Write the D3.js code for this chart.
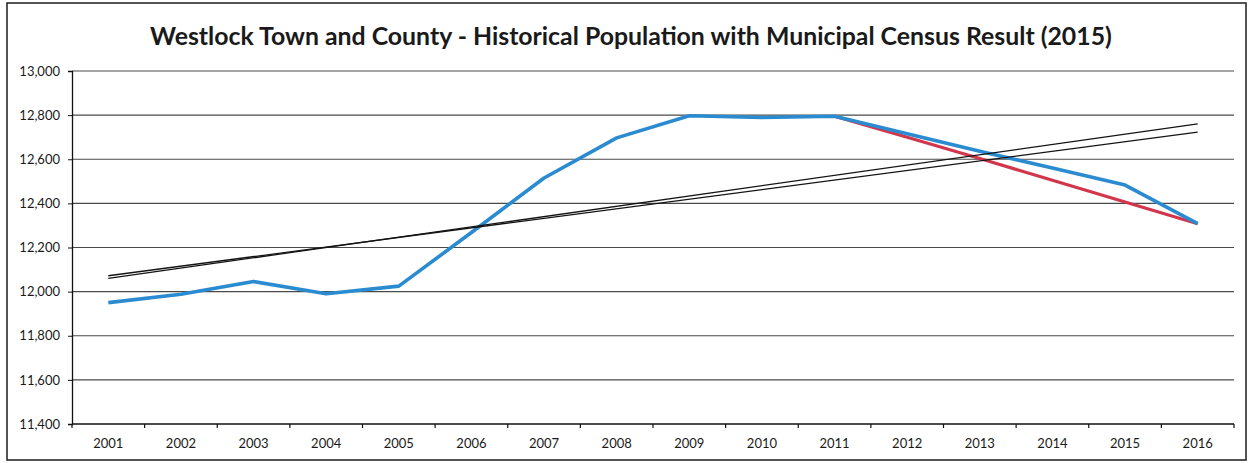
<!DOCTYPE html>
<html>
<head>
<meta charset="utf-8">
<script src="https://cdn.jsdelivr.net/npm/d3@7"></script>
<style>
  html, body { margin: 0; padding: 0; background: #fff; }
  svg { display: block; }
  text { font-family: Lato, "Open Sans", sans-serif; fill: #1a1a1a; }
</style>
</head>
<body>
<svg id="chart" width="1251" height="463"></svg>
<script>
const titleText = "Westlock Town and County - Historical Population with Municipal Census Result (2015)";
const years = [2001, 2002, 2003, 2004, 2005, 2006, 2007, 2008, 2009, 2010, 2011, 2012, 2013, 2014, 2015, 2016];
const population = [11950, 11988, 12046, 11990, 12025, 12268, 12515, 12697, 12797, 12789, 12795, 12716, 12636, 12560, 12483, 12308];
const censusYears = [2011, 2012, 2013, 2014, 2015, 2016];
const censusValues = [12795, 12700, 12603, 12505, 12406, 12308];
const trendA = [[2001, 12060], [2016, 12760]];
const trendB = [[2001, 12072], [2016, 12723]];
const yTicks = [11400, 11600, 11800, 12000, 12200, 12400, 12600, 12800, 13000];

const svg = d3.select("#chart");
const pLeft = 72, pRight = 1234, pTop = 71, pBottom = 424;

// outer frame
svg.append("rect").attr("x", 7).attr("y", 3).attr("width", 1239).attr("height", 457)
  .attr("fill", "none").attr("stroke", "#2a2a2a").attr("stroke-width", 1.6);

const x = d3.scaleBand().domain(years).range([pLeft, pRight]).paddingInner(0).paddingOuter(0);
const y = d3.scaleLinear().domain([11400, 13000]).range([pBottom, pTop]);
const cx = d => x(d) + x.bandwidth() / 2;

// gridlines
svg.append("g").selectAll("line").data(yTicks.filter(t => t > 11400)).join("line")
  .attr("x1", pLeft).attr("x2", pRight)
  .attr("y1", d => y(d)).attr("y2", d => y(d))
  .attr("stroke", "#4a4a4a").attr("stroke-width", 1.1);

// y axis
const yAxis = d3.axisLeft(y).tickValues(yTicks).tickSize(4).tickPadding(8)
  .tickFormat(d3.format(","));
const gy = svg.append("g").attr("transform", `translate(${pLeft},0)`).call(yAxis);
gy.select(".domain").attr("stroke", "#111").attr("stroke-width", 1.3);
gy.selectAll(".tick line").attr("stroke", "#111");
gy.selectAll("text").attr("font-size", 13).attr("fill", "#1a1a1a")
  .style("font-family", "Lato, 'Open Sans', sans-serif");

// x axis: labels at band centres, ticks at band boundaries
const xAxis = d3.axisBottom(x).tickSize(0).tickPadding(15);
const gx = svg.append("g").attr("transform", `translate(0,${pBottom})`).call(xAxis);
gx.select(".domain").remove();
gx.selectAll("text").attr("font-size", 13).attr("fill", "#1a1a1a")
  .style("font-family", "Lato, 'Open Sans', sans-serif");
svg.append("line").attr("x1", pLeft).attr("x2", pRight).attr("y1", pBottom).attr("y2", pBottom)
  .attr("stroke", "#111").attr("stroke-width", 1.3);
const bounds = years.map(d => x(d)).concat([pRight]);
svg.append("g").selectAll("line").data(bounds).join("line")
  .attr("x1", d => d).attr("x2", d => d).attr("y1", pBottom).attr("y2", pBottom + 4)
  .attr("stroke", "#111").attr("stroke-width", 1.2);

const line = d3.line().x(d => cx(d[0])).y(d => y(d[1]));

// census (red)
svg.append("path").datum(censusYears.map((d, i) => [d, censusValues[i]]))
  .attr("d", line).attr("fill", "none").attr("stroke", "#d2364c").attr("stroke-width", 3.2)
  .attr("stroke-linejoin", "round");

// population (blue)
svg.append("path").datum(years.map((d, i) => [d, population[i]]))
  .attr("d", line).attr("fill", "none").attr("stroke", "#2b8bd0").attr("stroke-width", 3.6)
  .attr("stroke-linejoin", "round");

// trend lines
[trendA, trendB].forEach(t => {
  svg.append("path").datum(t).attr("d", line).attr("fill", "none")
    .attr("stroke", "#141414").attr("stroke-width", 1.3);
});

// title
const title = svg.append("text").attr("x", 631).attr("y", 45)
  .attr("text-anchor", "middle").attr("font-weight", 700).attr("font-size", 24)
  .text(titleText);
const w = title.node().getComputedTextLength();
title.attr("font-size", 24 * 962 / w);
</script>
</body>
</html>
